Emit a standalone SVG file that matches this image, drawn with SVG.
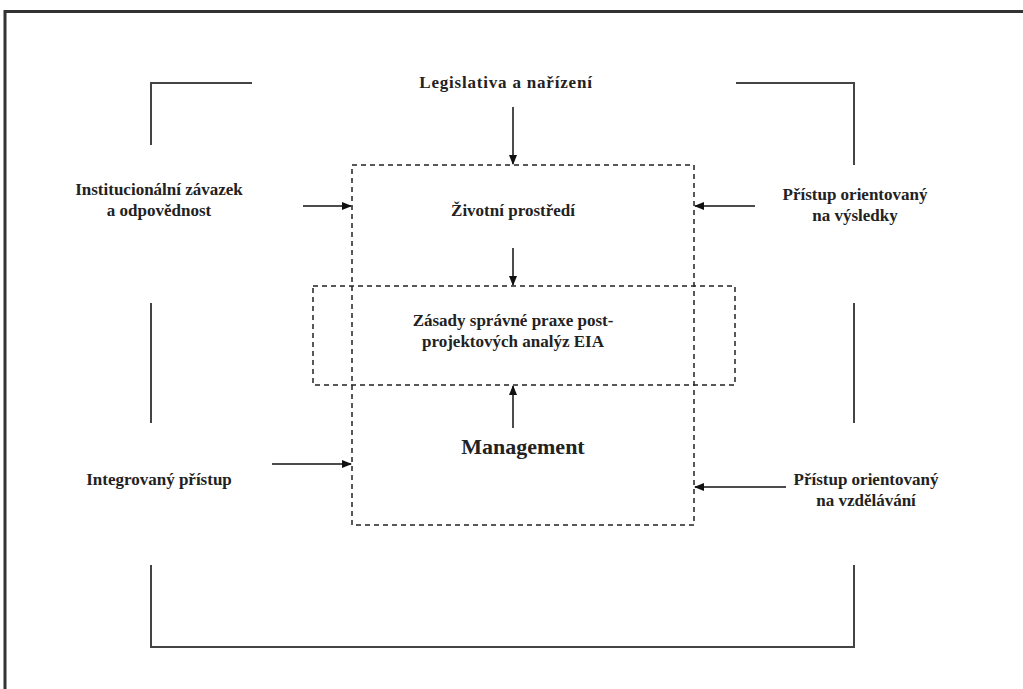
<svg xmlns="http://www.w3.org/2000/svg" width="1023" height="689" viewBox="0 0 1023 689">
<defs>
<marker id="ah" markerWidth="10" markerHeight="8" refX="9" refY="4" orient="auto" markerUnits="userSpaceOnUse">
<path d="M0,0 L10,4 L0,8 Z" fill="#111"/>
</marker>
<style>
.frame{fill:none;stroke:#333;stroke-width:3}
.br{fill:none;stroke:#444;stroke-width:2}
.box{fill:none;stroke:#222;stroke-width:1.5;stroke-dasharray:5,4}
.ar{stroke:#111;stroke-width:1.5;fill:none;marker-end:url(#ah)}
text{font-family:"Liberation Serif","Times New Roman",serif;font-weight:bold;font-size:17px;fill:#222;text-anchor:middle}
.big{font-size:22px}
</style>
</defs>
<rect width="1023" height="689" fill="#fff"/>
<path class="frame" d="M5,689 L5,11.5 L1023,11.5"/>
<g id="brackets">
<path class="br" d="M151,145 L151,83 L252,83"/>
<path class="br" d="M736,83 L854,83 L854,165"/>
<path class="br" d="M151,303 L151,423"/>
<path class="br" d="M854,303 L854,423"/>
<path class="br" d="M151,565 L151,647 L854,647 L854,565"/>
</g>
<g id="node-environment-box"><rect class="box" x="352" y="165" width="342" height="360"/></g>
<g id="node-principles-box"><rect class="box" x="313" y="286" width="422" height="99"/></g>
<g id="node-legislativa"><text x="506" y="88" letter-spacing="0.8">Legislativa a nařízení</text></g>
<g id="node-institucionalni"><text x="159" y="195">Institucionální závazek</text><text x="159" y="216">a odpovědnost</text></g>
<g id="node-zivotni"><text x="513" y="216">Životní prostředí</text></g>
<g id="node-vysledky"><text x="855" y="200">Přístup orientovaný</text><text x="855" y="221">na výsledky</text></g>
<g id="node-zasady"><text x="513" y="326">Zásady správné praxe post-</text><text x="513" y="347">projektových analýz EIA</text></g>
<g id="node-management"><text class="big" x="523" y="454">Management</text></g>
<g id="node-integrovany"><text x="159" y="485">Integrovaný přístup</text></g>
<g id="node-vzdelavani"><text x="866" y="485">Přístup orientovaný</text><text x="866" y="506">na vzdělávání</text></g>
<g id="connectors">
<line class="ar" x1="513" y1="107" x2="513" y2="164"/>
<line class="ar" x1="303" y1="206" x2="351" y2="206"/>
<line class="ar" x1="755" y1="206" x2="695" y2="206"/>
<line class="ar" x1="513" y1="248" x2="513" y2="285"/>
<line class="ar" x1="513" y1="428" x2="513" y2="386"/>
<line class="ar" x1="272" y1="464" x2="351" y2="464"/>
<line class="ar" x1="786" y1="487" x2="695" y2="487"/>
</g>
</svg>
